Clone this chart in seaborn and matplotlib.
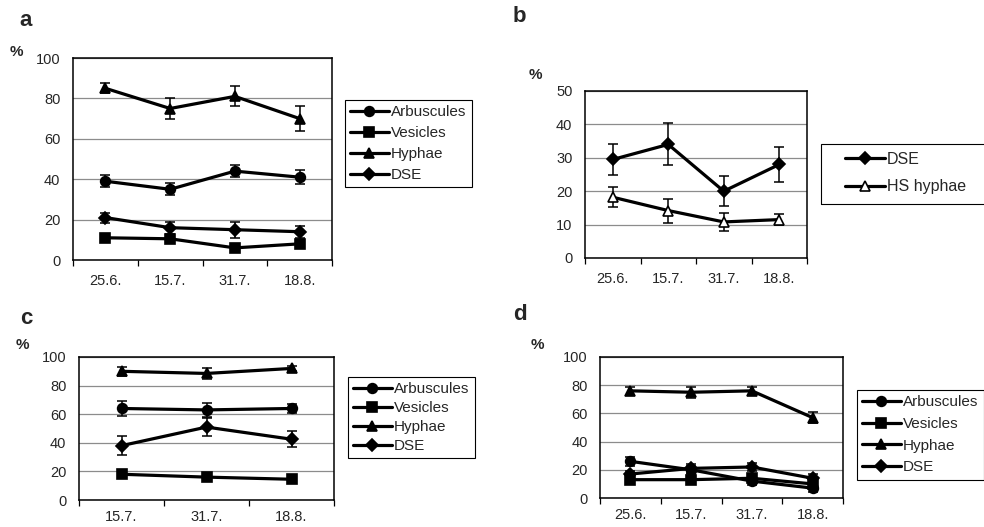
import numpy as np
import matplotlib
matplotlib.use("Agg")
import matplotlib.pyplot as plt
from matplotlib.patches import Rectangle
import seaborn as sns

# ---------------- data ----------------
dates_abd = ["25.6.", "15.7.", "31.7.", "18.8."]
dates_c = ["15.7.", "31.7.", "18.8."]
series_names = ["Arbuscules", "Vesicles", "Hyphae", "DSE"]

a_arbuscules = [39, 35, 44, 41]
a_arbuscules_err = [3, 3, 3, 3.5]
a_vesicles = [11, 10.5, 6, 8]
a_vesicles_err = [1.5, 1.5, 1.5, 1.5]
a_hyphae = [85, 75, 81, 70]
a_hyphae_err = [2.5, 5, 5, 6]
a_dse = [21, 16, 15, 14]
a_dse_err = [2.5, 3, 4, 3]

b_dse = [29.5, 34, 20, 28]
b_dse_err = [4.7, 6.3, 4.5, 5.3]
b_hs_hyphae = [18.2, 14.2, 10.8, 11.5]
b_hs_hyphae_err = [3, 3.6, 2.8, 1.6]

c_arbuscules = [64, 63, 64]
c_arbuscules_err = [5, 5, 3]
c_vesicles = [18, 16, 14.5]
c_vesicles_err = [1.5, 1.5, 1.5]
c_hyphae = [90, 88.5, 92]
c_hyphae_err = [3, 4, 1.5]
c_dse = [38, 51, 42.5]
c_dse_err = [6.5, 6.5, 5.5]

d_arbuscules = [26, 20, 12, 7]
d_arbuscules_err = [3, 3, 3, 3]
d_vesicles = [13, 13, 14, 10]
d_vesicles_err = [2, 2, 2, 3]
d_hyphae = [76, 75, 76, 57]
d_hyphae_err = [3, 4, 3, 4]
d_dse = [17, 21, 22, 14]
d_dse_err = [2, 3, 3, 3]

# ---------------- style ----------------
sns.set_style("white")
plt.rcParams["font.family"] = ["Liberation Sans", "DejaVu Sans"]

W, H = 984, 527
fig = plt.figure(figsize=(W / 100, H / 100), dpi=100)


def add_ax(l, t, r, b):
    return fig.add_axes([l / W, 1 - b / H, (r - l) / W, (b - t) / H])


MARKERS = {"Arbuscules": ("o", 7), "Vesicles": ("s", 7), "Hyphae": ("^", 7.5),
           "DSE": ("D", 6), "HS hyphae": ("^", 7.5)}


def draw_series(ax, dates, name, vals, errs, open_marker=False):
    x = np.arange(len(dates))
    m, ms = MARKERS[name]
    sns.lineplot(x=x, y=vals, ax=ax, color="black", lw=2.3, marker=m,
                 markersize=ms, markeredgecolor="black", markeredgewidth=1.2,
                 markerfacecolor="white" if open_marker else "black",
                 label=name, zorder=3)
    ax.errorbar(x, vals, yerr=errs, fmt="none", ecolor="black", elinewidth=1.1,
                capsize=3.5, capthick=1.1, zorder=2)


def style_ax(ax, dates, ymax, ystep, xpad):
    n = len(dates)
    ax.set_xlim(-0.5, n - 0.5)
    ax.set_ylim(0, ymax)
    ax.set_xticks(np.arange(n))
    ax.set_xticklabels(dates)
    ax.set_xticks(np.arange(n + 1) - 0.5, minor=True)
    ax.set_yticks(np.arange(0, ymax + 0.1, ystep))
    ax.tick_params(axis="x", which="major", length=0, pad=xpad, labelsize=10.5)
    ax.tick_params(axis="x", which="minor", bottom=True, length=4, width=0.9,
                   direction="out", color="black")
    ax.tick_params(axis="y", which="major", left=False, length=0, pad=9,
                   labelsize=10.5)
    ax.yaxis.grid(True, color="#8c8c8c", lw=0.9)
    ax.xaxis.grid(False)
    ax.set_axisbelow(True)
    for s in ax.spines.values():
        s.set_visible(True)
        s.set_color("black")
        s.set_linewidth(1.1)
    ax.set_xlabel("")
    ax.set_ylabel("")


def add_legend(ax, x0, y0, fs, ls, frame=True, bp=0.35):
    handles, labels = ax.get_legend_handles_labels()
    leg = ax.legend(handles, labels, loc="upper left",
                    bbox_to_anchor=(x0 / W, 1 - y0 / H),
                    bbox_transform=fig.transFigure, borderaxespad=0,
                    frameon=frame, fancybox=False, shadow=False,
                    fontsize=fs, labelspacing=ls, handlelength=2.5,
                    handletextpad=0.15, borderpad=bp)
    if frame:
        fr = leg.get_frame()
        fr.set_edgecolor("black")
        fr.set_linewidth(0.8)
        fr.set_facecolor("white")
        fr.set_alpha(1)
    return leg


def frame_box(l, t, r, b):
    fig.patches.append(Rectangle((l / W, 1 - b / H), (r - l) / W, (b - t) / H,
                                 transform=fig.transFigure, fill=False,
                                 edgecolor="black", lw=0.8))


def panel_text(x, y, letter, px, py):
    fig.text(x / W, 1 - y / H, letter, fontsize=16, fontweight="bold",
             ha="center", va="center")
    fig.text(px / W, 1 - py / H, "%", fontsize=11, fontweight="bold",
             ha="center", va="center")


# ---------------- panel a ----------------
ax_a = add_ax(73, 58, 332, 260)
draw_series(ax_a, dates_abd, "Arbuscules", a_arbuscules, a_arbuscules_err)
draw_series(ax_a, dates_abd, "Vesicles", a_vesicles, a_vesicles_err)
draw_series(ax_a, dates_abd, "Hyphae", a_hyphae, a_hyphae_err)
draw_series(ax_a, dates_abd, "DSE", a_dse, a_dse_err)
style_ax(ax_a, dates_abd, 100, 20, 10)
add_legend(ax_a, 345, 100, 11, 0.45)
panel_text(26, 21, "a", 16, 52)

# ---------------- panel b ----------------
ax_b = add_ax(585, 91, 807, 258)
draw_series(ax_b, dates_abd, "DSE", b_dse, b_dse_err)
draw_series(ax_b, dates_abd, "HS hyphae", b_hs_hyphae, b_hs_hyphae_err,
            open_marker=True)
style_ax(ax_b, dates_abd, 50, 10, 10)
add_legend(ax_b, 843, 150, 11.5, 0.8, frame=False, bp=0.1)
frame_box(821, 144, 992, 204)
panel_text(519, 17, "b", 535, 75)

# ---------------- panel c ----------------
ax_c = add_ax(79, 357, 334, 500)
draw_series(ax_c, dates_c, "Arbuscules", c_arbuscules, c_arbuscules_err)
draw_series(ax_c, dates_c, "Vesicles", c_vesicles, c_vesicles_err)
draw_series(ax_c, dates_c, "Hyphae", c_hyphae, c_hyphae_err)
draw_series(ax_c, dates_c, "DSE", c_dse, c_dse_err)
style_ax(ax_c, dates_c, 100, 20, 7)
add_legend(ax_c, 348, 377, 11, 0.32)
panel_text(26, 318, "c", 22, 345)

# ---------------- panel d ----------------
ax_d = add_ax(600, 357, 843, 498)
draw_series(ax_d, dates_abd, "Arbuscules", d_arbuscules, d_arbuscules_err)
draw_series(ax_d, dates_abd, "Vesicles", d_vesicles, d_vesicles_err)
draw_series(ax_d, dates_abd, "Hyphae", d_hyphae, d_hyphae_err)
draw_series(ax_d, dates_abd, "DSE", d_dse, d_dse_err)
style_ax(ax_d, dates_abd, 100, 20, 7)
add_legend(ax_d, 857, 390, 11, 0.5)
panel_text(520, 315, "d", 537, 345)

fig.savefig("out.png", dpi=100)
